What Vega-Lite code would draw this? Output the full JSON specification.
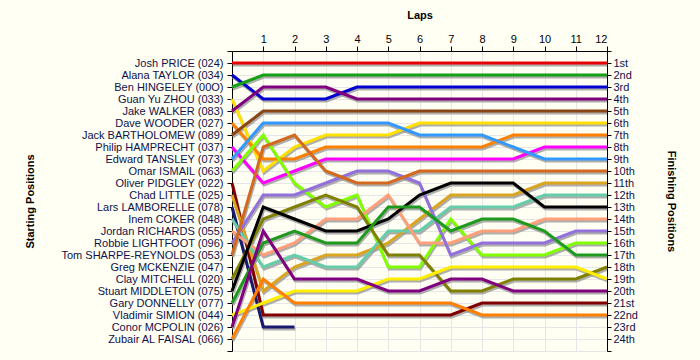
{
  "$schema": "https://vega.github.io/schema/vega-lite/v6.json",
  "width": 375,
  "height": 300,
  "autosize": "none",
  "padding": {"left": 232, "top": 51, "right": 93, "bottom": 9},
  "background": "#fffff4",
  "config": {
    "view": {"stroke": null, "fill": "#fffff4"},
    "font": "Liberation Sans",
    "axis": {"labelFont": "Liberation Sans", "titleFont": "Liberation Sans", "labelFontSize": 11, "titleFontSize": 11, "titleFontWeight": "bold", "labelColor": "#10104a", "titleColor": "#000000", "domainColor": "#000000", "tickColor": "#000000", "gridColor": "#e6e6e6"}
  },
  "datasets": {
    "laps": [
      {"driver": "Josh PRICE (024)", "lap": 0, "pos": 1}, {"driver": "Josh PRICE (024)", "lap": 1, "pos": 1}, {"driver": "Josh PRICE (024)", "lap": 2, "pos": 1}, {"driver": "Josh PRICE (024)", "lap": 3, "pos": 1}, {"driver": "Josh PRICE (024)", "lap": 4, "pos": 1}, {"driver": "Josh PRICE (024)", "lap": 5, "pos": 1}, {"driver": "Josh PRICE (024)", "lap": 6, "pos": 1}, {"driver": "Josh PRICE (024)", "lap": 7, "pos": 1}, {"driver": "Josh PRICE (024)", "lap": 8, "pos": 1}, {"driver": "Josh PRICE (024)", "lap": 9, "pos": 1}, {"driver": "Josh PRICE (024)", "lap": 10, "pos": 1}, {"driver": "Josh PRICE (024)", "lap": 11, "pos": 1}, {"driver": "Josh PRICE (024)", "lap": 12, "pos": 1},
      {"driver": "Alana TAYLOR (034)", "lap": 0, "pos": 2}, {"driver": "Alana TAYLOR (034)", "lap": 1, "pos": 4}, {"driver": "Alana TAYLOR (034)", "lap": 2, "pos": 4}, {"driver": "Alana TAYLOR (034)", "lap": 3, "pos": 4}, {"driver": "Alana TAYLOR (034)", "lap": 4, "pos": 3}, {"driver": "Alana TAYLOR (034)", "lap": 5, "pos": 3}, {"driver": "Alana TAYLOR (034)", "lap": 6, "pos": 3}, {"driver": "Alana TAYLOR (034)", "lap": 7, "pos": 3}, {"driver": "Alana TAYLOR (034)", "lap": 8, "pos": 3}, {"driver": "Alana TAYLOR (034)", "lap": 9, "pos": 3}, {"driver": "Alana TAYLOR (034)", "lap": 10, "pos": 3}, {"driver": "Alana TAYLOR (034)", "lap": 11, "pos": 3}, {"driver": "Alana TAYLOR (034)", "lap": 12, "pos": 3},
      {"driver": "Ben HINGELEY (00O)", "lap": 0, "pos": 3}, {"driver": "Ben HINGELEY (00O)", "lap": 1, "pos": 2}, {"driver": "Ben HINGELEY (00O)", "lap": 2, "pos": 2}, {"driver": "Ben HINGELEY (00O)", "lap": 3, "pos": 2}, {"driver": "Ben HINGELEY (00O)", "lap": 4, "pos": 2}, {"driver": "Ben HINGELEY (00O)", "lap": 5, "pos": 2}, {"driver": "Ben HINGELEY (00O)", "lap": 6, "pos": 2}, {"driver": "Ben HINGELEY (00O)", "lap": 7, "pos": 2}, {"driver": "Ben HINGELEY (00O)", "lap": 8, "pos": 2}, {"driver": "Ben HINGELEY (00O)", "lap": 9, "pos": 2}, {"driver": "Ben HINGELEY (00O)", "lap": 10, "pos": 2}, {"driver": "Ben HINGELEY (00O)", "lap": 11, "pos": 2}, {"driver": "Ben HINGELEY (00O)", "lap": 12, "pos": 2},
      {"driver": "Guan Yu ZHOU (033)", "lap": 0, "pos": 4}, {"driver": "Guan Yu ZHOU (033)", "lap": 1, "pos": 10}, {"driver": "Guan Yu ZHOU (033)", "lap": 2, "pos": 8}, {"driver": "Guan Yu ZHOU (033)", "lap": 3, "pos": 7}, {"driver": "Guan Yu ZHOU (033)", "lap": 4, "pos": 7}, {"driver": "Guan Yu ZHOU (033)", "lap": 5, "pos": 7}, {"driver": "Guan Yu ZHOU (033)", "lap": 6, "pos": 6}, {"driver": "Guan Yu ZHOU (033)", "lap": 7, "pos": 6}, {"driver": "Guan Yu ZHOU (033)", "lap": 8, "pos": 6}, {"driver": "Guan Yu ZHOU (033)", "lap": 9, "pos": 6}, {"driver": "Guan Yu ZHOU (033)", "lap": 10, "pos": 6}, {"driver": "Guan Yu ZHOU (033)", "lap": 11, "pos": 6}, {"driver": "Guan Yu ZHOU (033)", "lap": 12, "pos": 6},
      {"driver": "Jake WALKER (083)", "lap": 0, "pos": 5}, {"driver": "Jake WALKER (083)", "lap": 1, "pos": 3}, {"driver": "Jake WALKER (083)", "lap": 2, "pos": 3}, {"driver": "Jake WALKER (083)", "lap": 3, "pos": 3}, {"driver": "Jake WALKER (083)", "lap": 4, "pos": 4}, {"driver": "Jake WALKER (083)", "lap": 5, "pos": 4}, {"driver": "Jake WALKER (083)", "lap": 6, "pos": 4}, {"driver": "Jake WALKER (083)", "lap": 7, "pos": 4}, {"driver": "Jake WALKER (083)", "lap": 8, "pos": 4}, {"driver": "Jake WALKER (083)", "lap": 9, "pos": 4}, {"driver": "Jake WALKER (083)", "lap": 10, "pos": 4}, {"driver": "Jake WALKER (083)", "lap": 11, "pos": 4}, {"driver": "Jake WALKER (083)", "lap": 12, "pos": 4},
      {"driver": "Dave WOODER (027)", "lap": 0, "pos": 6}, {"driver": "Dave WOODER (027)", "lap": 1, "pos": 9}, {"driver": "Dave WOODER (027)", "lap": 2, "pos": 9}, {"driver": "Dave WOODER (027)", "lap": 3, "pos": 8}, {"driver": "Dave WOODER (027)", "lap": 4, "pos": 8}, {"driver": "Dave WOODER (027)", "lap": 5, "pos": 8}, {"driver": "Dave WOODER (027)", "lap": 6, "pos": 8}, {"driver": "Dave WOODER (027)", "lap": 7, "pos": 8}, {"driver": "Dave WOODER (027)", "lap": 8, "pos": 8}, {"driver": "Dave WOODER (027)", "lap": 9, "pos": 7}, {"driver": "Dave WOODER (027)", "lap": 10, "pos": 7}, {"driver": "Dave WOODER (027)", "lap": 11, "pos": 7}, {"driver": "Dave WOODER (027)", "lap": 12, "pos": 7},
      {"driver": "Jack BARTHOLOMEW (089)", "lap": 0, "pos": 7}, {"driver": "Jack BARTHOLOMEW (089)", "lap": 1, "pos": 5}, {"driver": "Jack BARTHOLOMEW (089)", "lap": 2, "pos": 5}, {"driver": "Jack BARTHOLOMEW (089)", "lap": 3, "pos": 5}, {"driver": "Jack BARTHOLOMEW (089)", "lap": 4, "pos": 5}, {"driver": "Jack BARTHOLOMEW (089)", "lap": 5, "pos": 5}, {"driver": "Jack BARTHOLOMEW (089)", "lap": 6, "pos": 5}, {"driver": "Jack BARTHOLOMEW (089)", "lap": 7, "pos": 5}, {"driver": "Jack BARTHOLOMEW (089)", "lap": 8, "pos": 5}, {"driver": "Jack BARTHOLOMEW (089)", "lap": 9, "pos": 5}, {"driver": "Jack BARTHOLOMEW (089)", "lap": 10, "pos": 5}, {"driver": "Jack BARTHOLOMEW (089)", "lap": 11, "pos": 5}, {"driver": "Jack BARTHOLOMEW (089)", "lap": 12, "pos": 5},
      {"driver": "Philip HAMPRECHT (037)", "lap": 0, "pos": 8}, {"driver": "Philip HAMPRECHT (037)", "lap": 1, "pos": 11}, {"driver": "Philip HAMPRECHT (037)", "lap": 2, "pos": 10}, {"driver": "Philip HAMPRECHT (037)", "lap": 3, "pos": 9}, {"driver": "Philip HAMPRECHT (037)", "lap": 4, "pos": 9}, {"driver": "Philip HAMPRECHT (037)", "lap": 5, "pos": 9}, {"driver": "Philip HAMPRECHT (037)", "lap": 6, "pos": 9}, {"driver": "Philip HAMPRECHT (037)", "lap": 7, "pos": 9}, {"driver": "Philip HAMPRECHT (037)", "lap": 8, "pos": 9}, {"driver": "Philip HAMPRECHT (037)", "lap": 9, "pos": 9}, {"driver": "Philip HAMPRECHT (037)", "lap": 10, "pos": 8}, {"driver": "Philip HAMPRECHT (037)", "lap": 11, "pos": 8}, {"driver": "Philip HAMPRECHT (037)", "lap": 12, "pos": 8},
      {"driver": "Edward TANSLEY (073)", "lap": 0, "pos": 9}, {"driver": "Edward TANSLEY (073)", "lap": 1, "pos": 6}, {"driver": "Edward TANSLEY (073)", "lap": 2, "pos": 6}, {"driver": "Edward TANSLEY (073)", "lap": 3, "pos": 6}, {"driver": "Edward TANSLEY (073)", "lap": 4, "pos": 6}, {"driver": "Edward TANSLEY (073)", "lap": 5, "pos": 6}, {"driver": "Edward TANSLEY (073)", "lap": 6, "pos": 7}, {"driver": "Edward TANSLEY (073)", "lap": 7, "pos": 7}, {"driver": "Edward TANSLEY (073)", "lap": 8, "pos": 7}, {"driver": "Edward TANSLEY (073)", "lap": 9, "pos": 8}, {"driver": "Edward TANSLEY (073)", "lap": 10, "pos": 9}, {"driver": "Edward TANSLEY (073)", "lap": 11, "pos": 9}, {"driver": "Edward TANSLEY (073)", "lap": 12, "pos": 9},
      {"driver": "Omar ISMAIL (063)", "lap": 0, "pos": 10}, {"driver": "Omar ISMAIL (063)", "lap": 1, "pos": 7}, {"driver": "Omar ISMAIL (063)", "lap": 2, "pos": 11}, {"driver": "Omar ISMAIL (063)", "lap": 3, "pos": 13}, {"driver": "Omar ISMAIL (063)", "lap": 4, "pos": 12}, {"driver": "Omar ISMAIL (063)", "lap": 5, "pos": 18}, {"driver": "Omar ISMAIL (063)", "lap": 6, "pos": 18}, {"driver": "Omar ISMAIL (063)", "lap": 7, "pos": 14}, {"driver": "Omar ISMAIL (063)", "lap": 8, "pos": 17}, {"driver": "Omar ISMAIL (063)", "lap": 9, "pos": 17}, {"driver": "Omar ISMAIL (063)", "lap": 10, "pos": 17}, {"driver": "Omar ISMAIL (063)", "lap": 11, "pos": 16}, {"driver": "Omar ISMAIL (063)", "lap": 12, "pos": 16},
      {"driver": "Oliver PIDGLEY (022)", "lap": 0, "pos": 11}, {"driver": "Oliver PIDGLEY (022)", "lap": 1, "pos": 22}, {"driver": "Oliver PIDGLEY (022)", "lap": 2, "pos": 22}, {"driver": "Oliver PIDGLEY (022)", "lap": 3, "pos": 22}, {"driver": "Oliver PIDGLEY (022)", "lap": 4, "pos": 22}, {"driver": "Oliver PIDGLEY (022)", "lap": 5, "pos": 22}, {"driver": "Oliver PIDGLEY (022)", "lap": 6, "pos": 22}, {"driver": "Oliver PIDGLEY (022)", "lap": 7, "pos": 22}, {"driver": "Oliver PIDGLEY (022)", "lap": 8, "pos": 21}, {"driver": "Oliver PIDGLEY (022)", "lap": 9, "pos": 21}, {"driver": "Oliver PIDGLEY (022)", "lap": 10, "pos": 21}, {"driver": "Oliver PIDGLEY (022)", "lap": 11, "pos": 21}, {"driver": "Oliver PIDGLEY (022)", "lap": 12, "pos": 21},
      {"driver": "Chad LITTLE (025)", "lap": 0, "pos": 12}, {"driver": "Chad LITTLE (025)", "lap": 1, "pos": 20}, {"driver": "Chad LITTLE (025)", "lap": 2, "pos": 18}, {"driver": "Chad LITTLE (025)", "lap": 3, "pos": 17}, {"driver": "Chad LITTLE (025)", "lap": 4, "pos": 17}, {"driver": "Chad LITTLE (025)", "lap": 5, "pos": 16}, {"driver": "Chad LITTLE (025)", "lap": 6, "pos": 14}, {"driver": "Chad LITTLE (025)", "lap": 7, "pos": 12}, {"driver": "Chad LITTLE (025)", "lap": 8, "pos": 12}, {"driver": "Chad LITTLE (025)", "lap": 9, "pos": 12}, {"driver": "Chad LITTLE (025)", "lap": 10, "pos": 11}, {"driver": "Chad LITTLE (025)", "lap": 11, "pos": 11}, {"driver": "Chad LITTLE (025)", "lap": 12, "pos": 11},
      {"driver": "Lars LAMBORELLE (078)", "lap": 0, "pos": 13}, {"driver": "Lars LAMBORELLE (078)", "lap": 1, "pos": 23}, {"driver": "Lars LAMBORELLE (078)", "lap": 2, "pos": 23},
      {"driver": "Inem COKER (048)", "lap": 0, "pos": 14}, {"driver": "Inem COKER (048)", "lap": 1, "pos": 18}, {"driver": "Inem COKER (048)", "lap": 2, "pos": 17}, {"driver": "Inem COKER (048)", "lap": 3, "pos": 18}, {"driver": "Inem COKER (048)", "lap": 4, "pos": 18}, {"driver": "Inem COKER (048)", "lap": 5, "pos": 15}, {"driver": "Inem COKER (048)", "lap": 6, "pos": 15}, {"driver": "Inem COKER (048)", "lap": 7, "pos": 13}, {"driver": "Inem COKER (048)", "lap": 8, "pos": 13}, {"driver": "Inem COKER (048)", "lap": 9, "pos": 13}, {"driver": "Inem COKER (048)", "lap": 10, "pos": 12}, {"driver": "Inem COKER (048)", "lap": 11, "pos": 12}, {"driver": "Inem COKER (048)", "lap": 12, "pos": 12},
      {"driver": "Jordan RICHARDS (055)", "lap": 0, "pos": 15}, {"driver": "Jordan RICHARDS (055)", "lap": 1, "pos": 17}, {"driver": "Jordan RICHARDS (055)", "lap": 2, "pos": 16}, {"driver": "Jordan RICHARDS (055)", "lap": 3, "pos": 14}, {"driver": "Jordan RICHARDS (055)", "lap": 4, "pos": 14}, {"driver": "Jordan RICHARDS (055)", "lap": 5, "pos": 12}, {"driver": "Jordan RICHARDS (055)", "lap": 6, "pos": 16}, {"driver": "Jordan RICHARDS (055)", "lap": 7, "pos": 16}, {"driver": "Jordan RICHARDS (055)", "lap": 8, "pos": 15}, {"driver": "Jordan RICHARDS (055)", "lap": 9, "pos": 15}, {"driver": "Jordan RICHARDS (055)", "lap": 10, "pos": 14}, {"driver": "Jordan RICHARDS (055)", "lap": 11, "pos": 14}, {"driver": "Jordan RICHARDS (055)", "lap": 12, "pos": 14},
      {"driver": "Robbie LIGHTFOOT (096)", "lap": 0, "pos": 16}, {"driver": "Robbie LIGHTFOOT (096)", "lap": 1, "pos": 12}, {"driver": "Robbie LIGHTFOOT (096)", "lap": 2, "pos": 12}, {"driver": "Robbie LIGHTFOOT (096)", "lap": 3, "pos": 11}, {"driver": "Robbie LIGHTFOOT (096)", "lap": 4, "pos": 10}, {"driver": "Robbie LIGHTFOOT (096)", "lap": 5, "pos": 10}, {"driver": "Robbie LIGHTFOOT (096)", "lap": 6, "pos": 11}, {"driver": "Robbie LIGHTFOOT (096)", "lap": 7, "pos": 17}, {"driver": "Robbie LIGHTFOOT (096)", "lap": 8, "pos": 16}, {"driver": "Robbie LIGHTFOOT (096)", "lap": 9, "pos": 16}, {"driver": "Robbie LIGHTFOOT (096)", "lap": 10, "pos": 16}, {"driver": "Robbie LIGHTFOOT (096)", "lap": 11, "pos": 15}, {"driver": "Robbie LIGHTFOOT (096)", "lap": 12, "pos": 15},
      {"driver": "Tom SHARPE-REYNOLDS (053)", "lap": 0, "pos": 17}, {"driver": "Tom SHARPE-REYNOLDS (053)", "lap": 1, "pos": 8}, {"driver": "Tom SHARPE-REYNOLDS (053)", "lap": 2, "pos": 7}, {"driver": "Tom SHARPE-REYNOLDS (053)", "lap": 3, "pos": 10}, {"driver": "Tom SHARPE-REYNOLDS (053)", "lap": 4, "pos": 11}, {"driver": "Tom SHARPE-REYNOLDS (053)", "lap": 5, "pos": 11}, {"driver": "Tom SHARPE-REYNOLDS (053)", "lap": 6, "pos": 10}, {"driver": "Tom SHARPE-REYNOLDS (053)", "lap": 7, "pos": 10}, {"driver": "Tom SHARPE-REYNOLDS (053)", "lap": 8, "pos": 10}, {"driver": "Tom SHARPE-REYNOLDS (053)", "lap": 9, "pos": 10}, {"driver": "Tom SHARPE-REYNOLDS (053)", "lap": 10, "pos": 10}, {"driver": "Tom SHARPE-REYNOLDS (053)", "lap": 11, "pos": 10}, {"driver": "Tom SHARPE-REYNOLDS (053)", "lap": 12, "pos": 10},
      {"driver": "Greg MCKENZIE (047)", "lap": 0, "pos": 18},
      {"driver": "Clay MITCHELL (020)", "lap": 0, "pos": 19}, {"driver": "Clay MITCHELL (020)", "lap": 1, "pos": 14}, {"driver": "Clay MITCHELL (020)", "lap": 2, "pos": 13}, {"driver": "Clay MITCHELL (020)", "lap": 3, "pos": 12}, {"driver": "Clay MITCHELL (020)", "lap": 4, "pos": 13}, {"driver": "Clay MITCHELL (020)", "lap": 5, "pos": 17}, {"driver": "Clay MITCHELL (020)", "lap": 6, "pos": 17}, {"driver": "Clay MITCHELL (020)", "lap": 7, "pos": 20}, {"driver": "Clay MITCHELL (020)", "lap": 8, "pos": 20}, {"driver": "Clay MITCHELL (020)", "lap": 9, "pos": 19}, {"driver": "Clay MITCHELL (020)", "lap": 10, "pos": 19}, {"driver": "Clay MITCHELL (020)", "lap": 11, "pos": 19}, {"driver": "Clay MITCHELL (020)", "lap": 12, "pos": 18},
      {"driver": "Stuart MIDDLETON (075)", "lap": 0, "pos": 20}, {"driver": "Stuart MIDDLETON (075)", "lap": 1, "pos": 13}, {"driver": "Stuart MIDDLETON (075)", "lap": 2, "pos": 14}, {"driver": "Stuart MIDDLETON (075)", "lap": 3, "pos": 15}, {"driver": "Stuart MIDDLETON (075)", "lap": 4, "pos": 15}, {"driver": "Stuart MIDDLETON (075)", "lap": 5, "pos": 14}, {"driver": "Stuart MIDDLETON (075)", "lap": 6, "pos": 12}, {"driver": "Stuart MIDDLETON (075)", "lap": 7, "pos": 11}, {"driver": "Stuart MIDDLETON (075)", "lap": 8, "pos": 11}, {"driver": "Stuart MIDDLETON (075)", "lap": 9, "pos": 11}, {"driver": "Stuart MIDDLETON (075)", "lap": 10, "pos": 13}, {"driver": "Stuart MIDDLETON (075)", "lap": 11, "pos": 13}, {"driver": "Stuart MIDDLETON (075)", "lap": 12, "pos": 13},
      {"driver": "Gary DONNELLY (077)", "lap": 0, "pos": 21}, {"driver": "Gary DONNELLY (077)", "lap": 1, "pos": 16}, {"driver": "Gary DONNELLY (077)", "lap": 2, "pos": 15}, {"driver": "Gary DONNELLY (077)", "lap": 3, "pos": 16}, {"driver": "Gary DONNELLY (077)", "lap": 4, "pos": 16}, {"driver": "Gary DONNELLY (077)", "lap": 5, "pos": 13}, {"driver": "Gary DONNELLY (077)", "lap": 6, "pos": 13}, {"driver": "Gary DONNELLY (077)", "lap": 7, "pos": 15}, {"driver": "Gary DONNELLY (077)", "lap": 8, "pos": 14}, {"driver": "Gary DONNELLY (077)", "lap": 9, "pos": 14}, {"driver": "Gary DONNELLY (077)", "lap": 10, "pos": 15}, {"driver": "Gary DONNELLY (077)", "lap": 11, "pos": 17}, {"driver": "Gary DONNELLY (077)", "lap": 12, "pos": 17},
      {"driver": "Vladimir SIMION (044)", "lap": 0, "pos": 22}, {"driver": "Vladimir SIMION (044)", "lap": 1, "pos": 21}, {"driver": "Vladimir SIMION (044)", "lap": 2, "pos": 20}, {"driver": "Vladimir SIMION (044)", "lap": 3, "pos": 20}, {"driver": "Vladimir SIMION (044)", "lap": 4, "pos": 20}, {"driver": "Vladimir SIMION (044)", "lap": 5, "pos": 19}, {"driver": "Vladimir SIMION (044)", "lap": 6, "pos": 19}, {"driver": "Vladimir SIMION (044)", "lap": 7, "pos": 18}, {"driver": "Vladimir SIMION (044)", "lap": 8, "pos": 18}, {"driver": "Vladimir SIMION (044)", "lap": 9, "pos": 18}, {"driver": "Vladimir SIMION (044)", "lap": 10, "pos": 18}, {"driver": "Vladimir SIMION (044)", "lap": 11, "pos": 18}, {"driver": "Vladimir SIMION (044)", "lap": 12, "pos": 19},
      {"driver": "Conor MCPOLIN (026)", "lap": 0, "pos": 23}, {"driver": "Conor MCPOLIN (026)", "lap": 1, "pos": 15}, {"driver": "Conor MCPOLIN (026)", "lap": 2, "pos": 19}, {"driver": "Conor MCPOLIN (026)", "lap": 3, "pos": 19}, {"driver": "Conor MCPOLIN (026)", "lap": 4, "pos": 19}, {"driver": "Conor MCPOLIN (026)", "lap": 5, "pos": 20}, {"driver": "Conor MCPOLIN (026)", "lap": 6, "pos": 20}, {"driver": "Conor MCPOLIN (026)", "lap": 7, "pos": 19}, {"driver": "Conor MCPOLIN (026)", "lap": 8, "pos": 19}, {"driver": "Conor MCPOLIN (026)", "lap": 9, "pos": 20}, {"driver": "Conor MCPOLIN (026)", "lap": 10, "pos": 20}, {"driver": "Conor MCPOLIN (026)", "lap": 11, "pos": 20}, {"driver": "Conor MCPOLIN (026)", "lap": 12, "pos": 20},
      {"driver": "Zubair AL FAISAL (066)", "lap": 0, "pos": 24}, {"driver": "Zubair AL FAISAL (066)", "lap": 1, "pos": 19}, {"driver": "Zubair AL FAISAL (066)", "lap": 2, "pos": 21}, {"driver": "Zubair AL FAISAL (066)", "lap": 3, "pos": 21}, {"driver": "Zubair AL FAISAL (066)", "lap": 4, "pos": 21}, {"driver": "Zubair AL FAISAL (066)", "lap": 5, "pos": 21}, {"driver": "Zubair AL FAISAL (066)", "lap": 6, "pos": 21}, {"driver": "Zubair AL FAISAL (066)", "lap": 7, "pos": 21}, {"driver": "Zubair AL FAISAL (066)", "lap": 8, "pos": 22}, {"driver": "Zubair AL FAISAL (066)", "lap": 9, "pos": 22}, {"driver": "Zubair AL FAISAL (066)", "lap": 10, "pos": 22}, {"driver": "Zubair AL FAISAL (066)", "lap": 11, "pos": 22}, {"driver": "Zubair AL FAISAL (066)", "lap": 12, "pos": 22}
    ]
  },
  "data": {"name": "laps"},
  "resolve": {"scale": {"x": "independent", "y": "independent"}, "axis": {"x": "independent", "y": "independent"}},
  "layer": [
    {
      "mark": {"type": "line", "strokeWidth": 3, "color": "#9a9a9a", "opacity": 0.8, "clip": true},
      "encoding": {
        "x": {"field": "lap", "type": "quantitative", "scale": {"domain": [-0.03, 11.97]}, "axis": null},
        "y": {"field": "pos", "type": "quantitative", "scale": {"domain": [24.83, -0.17]}, "axis": null},
        "detail": {"field": "driver"}
      }
    },
    {
      "mark": {"type": "line", "strokeWidth": 3},
      "encoding": {
        "x": {"field": "lap", "type": "quantitative", "scale": {"domain": [0, 12]},
          "axis": {"orient": "top", "title": "Laps", "values": [1,2,3,4,5,6,7,8,9,10,11,12], "grid": true, "tickSize": 5, "labelPadding": 2, "labelColor": "#000000", "titleY": -31, "titlePadding": 0}},
        "y": {"field": "pos", "type": "quantitative", "scale": {"domain": [25, 0]},
          "axis": {"orient": "left", "title": "Starting Positions", "values": [0,1,2,3,4,5,6,7,8,9,10,11,12,13,14,15,16,17,18,19,20,21,22,23,24,25], "grid": true, "tickSize": 5, "labelPadding": 4,
            "labelExpr": "['', 'Josh PRICE (024)', 'Alana TAYLOR (034)', 'Ben HINGELEY (00O)', 'Guan Yu ZHOU (033)', 'Jake WALKER (083)', 'Dave WOODER (027)', 'Jack BARTHOLOMEW (089)', 'Philip HAMPRECHT (037)', 'Edward TANSLEY (073)', 'Omar ISMAIL (063)', 'Oliver PIDGLEY (022)', 'Chad LITTLE (025)', 'Lars LAMBORELLE (078)', 'Inem COKER (048)', 'Jordan RICHARDS (055)', 'Robbie LIGHTFOOT (096)', 'Tom SHARPE-REYNOLDS (053)', 'Greg MCKENZIE (047)', 'Clay MITCHELL (020)', 'Stuart MIDDLETON (075)', 'Gary DONNELLY (077)', 'Vladimir SIMION (044)', 'Conor MCPOLIN (026)', 'Zubair AL FAISAL (066)', ''][datum.value]",
            "titleAngle": -90, "titleX": -202, "titleY": 150, "titleAlign": "center", "titleBaseline": "middle"}},
        "color": {"field": "driver", "type": "nominal", "legend": null,
          "scale": {
            "domain": ["Josh PRICE (024)", "Alana TAYLOR (034)", "Ben HINGELEY (00O)", "Guan Yu ZHOU (033)", "Jake WALKER (083)", "Dave WOODER (027)", "Jack BARTHOLOMEW (089)", "Philip HAMPRECHT (037)", "Edward TANSLEY (073)", "Omar ISMAIL (063)", "Oliver PIDGLEY (022)", "Chad LITTLE (025)", "Lars LAMBORELLE (078)", "Inem COKER (048)", "Jordan RICHARDS (055)", "Robbie LIGHTFOOT (096)", "Tom SHARPE-REYNOLDS (053)", "Greg MCKENZIE (047)", "Clay MITCHELL (020)", "Stuart MIDDLETON (075)", "Gary DONNELLY (077)", "Vladimir SIMION (044)", "Conor MCPOLIN (026)", "Zubair AL FAISAL (066)"],
            "range": ["#e60000", "#0000d0", "#16a016", "#ffe000", "#800080", "#ff8000", "#8b4513", "#ff00ff", "#3399ff", "#80ff00", "#800000", "#daa520", "#191970", "#66cdaa", "#ffa07a", "#9370db", "#d2691e", "#ff69b4", "#808000", "#000000", "#1e9a1e", "#ffee00", "#800080", "#ff8000"]
          }}
      }
    },
    {
      "mark": {"type": "point", "opacity": 0},
      "encoding": {
        "x": {"field": "lap", "type": "quantitative", "scale": {"domain": [0, 12]}, "axis": null},
        "y": {"field": "pos", "type": "quantitative", "scale": {"domain": [25, 0]},
          "axis": {"orient": "right", "title": "Finishing Positions", "values": [0,1,2,3,4,5,6,7,8,9,10,11,12,13,14,15,16,17,18,19,20,21,22,23,24,25], "grid": false, "tickSize": 4, "labelPadding": 2,
            "labelExpr": "datum.value < 1 || datum.value > 24 ? '' : datum.value + ((datum.value % 10 == 1 && datum.value != 11) ? 'st' : (datum.value % 10 == 2 && datum.value != 12) ? 'nd' : (datum.value % 10 == 3 && datum.value != 13) ? 'rd' : 'th')",
            "titleAngle": 90, "titleX": 63, "titleY": 150, "titleAlign": "center", "titleBaseline": "middle"}}
      }
    }
  ]
}
